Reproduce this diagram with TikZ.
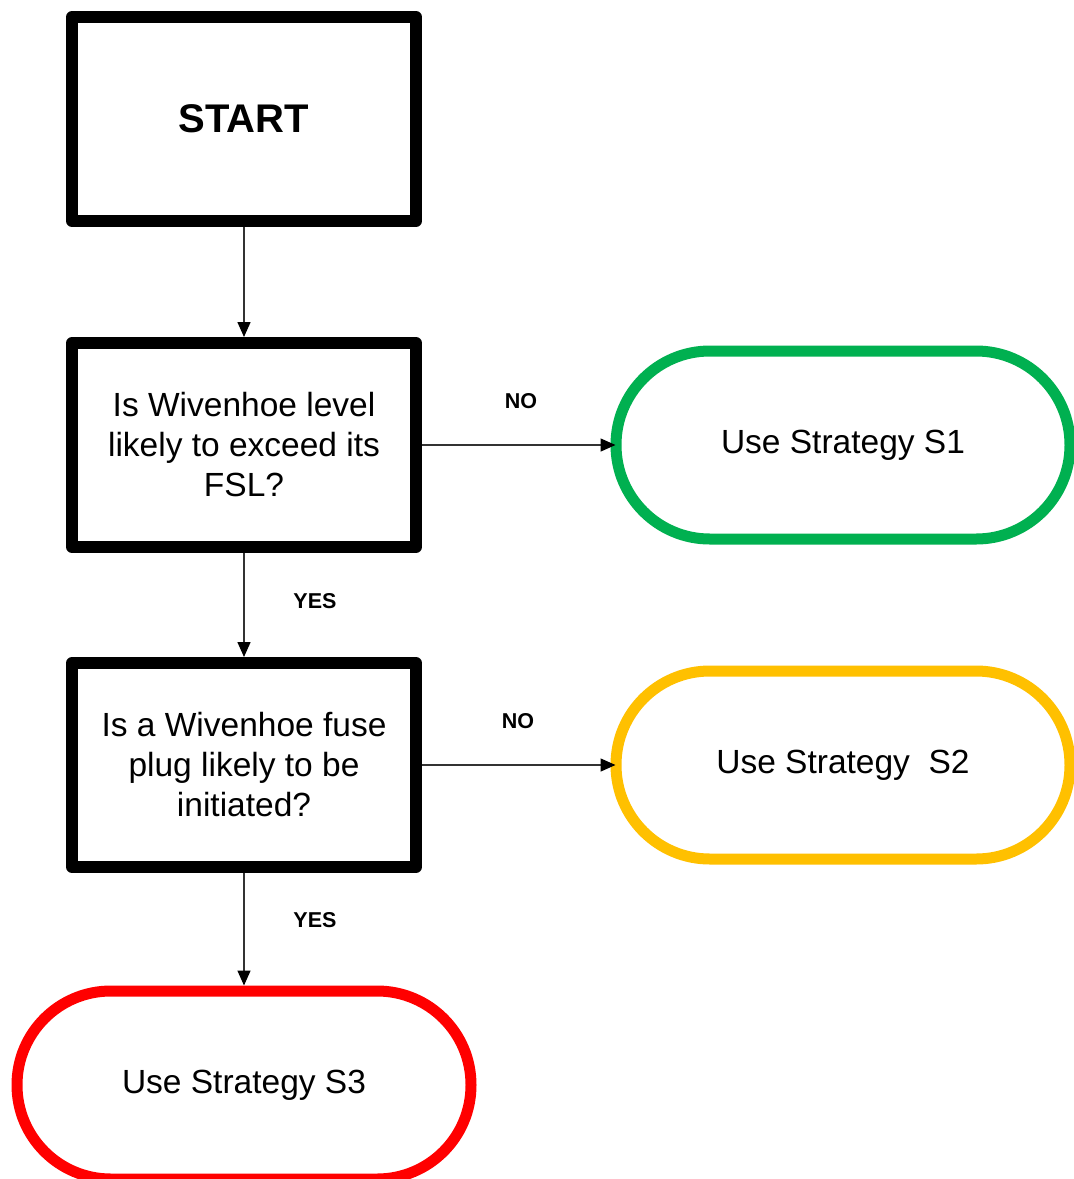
\documentclass[tikz,border=0pt]{standalone}
\usepackage{fontspec}
\setmainfont{Liberation Sans}
\usetikzlibrary{arrows.meta}
\definecolor{sgreen}{HTML}{00B050}
\definecolor{syellow}{HTML}{FFC000}
\definecolor{sred}{HTML}{FF0000}
\definecolor{linegray}{HTML}{333333}
\tikzset{
  stepbox/.style={draw=black, line width=6pt, line join=round, fill=white, rectangle,
    minimum width=172pt, minimum height=102pt, inner sep=0pt, align=center,
    font=\fontsize{16.75}{20}\selectfont},
  startbox/.style={stepbox, font=\fontsize{20}{23}\selectfont\bfseries},
  terminal/.style={draw=#1, line width=5.5pt, fill=white, rectangle, rounded corners=46.9pt,
    minimum width=227pt, minimum height=94pt, inner sep=0pt, align=center,
    font=\fontsize{16.75}{20}\selectfont},
  flow/.style={draw=linegray, line width=0.75pt, -{Triangle[length=7.5pt,width=6.5pt,color=black]}},
  answer/.style={inner sep=0pt, font=\fontsize{10.75}{13}\selectfont\bfseries},
}
\begin{document}
\begin{tikzpicture}[x=0.5pt,y=-0.5pt]
\useasboundingbox[fill=white] (0,0) rectangle (1074,1179);
\clip (0,0) rectangle (1074,1179);
\node[startbox] (start) at (244,119) {START};
\node[stepbox] (q1) at (244,445) {Is Wivenhoe level\\likely to exceed its\\FSL?};
\node[stepbox] (q2) at (244,765) {Is a Wivenhoe fuse\\plug likely to be\\initiated?};
\node[terminal=sgreen] (s1) at (843,445) {Use Strategy S1};
\node[terminal=syellow] (s2) at (843,765) {Use Strategy~~S2};
\node[terminal=sred] (s3) at (244,1085) {Use Strategy S3};
\node[answer] (no1) at (521,401) {NO};
\node[answer] (yes1) at (315,601) {YES};
\node[answer] (no2) at (518,721) {NO};
\node[answer] (yes2) at (315,920) {YES};
\draw[flow] (start.south) -- (q1.north);
\draw[flow] (q1.south) -- (q2.north);
\draw[flow] (q2.south) -- (s3.north);
\draw[flow, shorten >=-2.5pt] (q1.east) -- (s1.west);
\draw[flow, shorten >=-2.5pt] (q2.east) -- (s2.west);
\end{tikzpicture}
\end{document}
